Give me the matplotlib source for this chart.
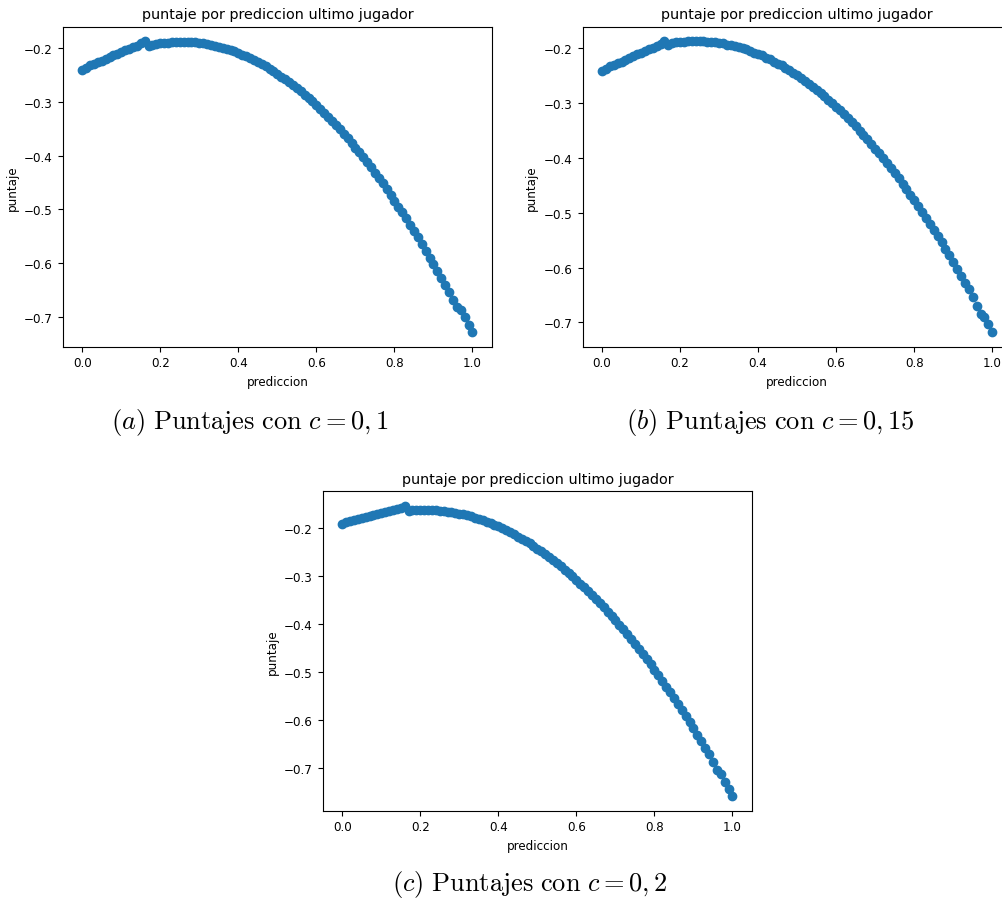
import matplotlib
matplotlib.use("Agg")
import matplotlib.pyplot as plt

# prediccion del ultimo jugador (eje x, paso 0.01)
prediccion = [
    0.00, 0.01, 0.02, 0.03, 0.04, 0.05, 0.06, 0.07, 0.08, 0.09,
    0.10, 0.11, 0.12, 0.13, 0.14, 0.15, 0.16, 0.17, 0.18, 0.19,
    0.20, 0.21, 0.22, 0.23, 0.24, 0.25, 0.26, 0.27, 0.28, 0.29,
    0.30, 0.31, 0.32, 0.33, 0.34, 0.35, 0.36, 0.37, 0.38, 0.39,
    0.40, 0.41, 0.42, 0.43, 0.44, 0.45, 0.46, 0.47, 0.48, 0.49,
    0.50, 0.51, 0.52, 0.53, 0.54, 0.55, 0.56, 0.57, 0.58, 0.59,
    0.60, 0.61, 0.62, 0.63, 0.64, 0.65, 0.66, 0.67, 0.68, 0.69,
    0.70, 0.71, 0.72, 0.73, 0.74, 0.75, 0.76, 0.77, 0.78, 0.79,
    0.80, 0.81, 0.82, 0.83, 0.84, 0.85, 0.86, 0.87, 0.88, 0.89,
    0.90, 0.91, 0.92, 0.93, 0.94, 0.95, 0.96, 0.97, 0.98, 0.99,
    1.00,
]

# puntajes con c = 0,1
puntaje_c01 = [
    -0.240, -0.236, -0.232, -0.229, -0.226, -0.223, -0.220, -0.217, -0.213, -0.210,
    -0.207, -0.204, -0.201, -0.198, -0.195, -0.191, -0.187, -0.195, -0.194, -0.193,
    -0.191, -0.190, -0.190, -0.189, -0.189, -0.188, -0.188, -0.188, -0.189, -0.189,
    -0.190, -0.191, -0.192, -0.194, -0.195, -0.197, -0.199, -0.201, -0.204, -0.206,
    -0.209, -0.212, -0.215, -0.218, -0.222, -0.226, -0.230, -0.234, -0.238, -0.243,
    -0.248, -0.253, -0.258, -0.263, -0.269, -0.274, -0.280, -0.287, -0.293, -0.299,
    -0.306, -0.313, -0.320, -0.328, -0.335, -0.343, -0.351, -0.359, -0.368, -0.376,
    -0.385, -0.394, -0.403, -0.412, -0.422, -0.432, -0.442, -0.452, -0.462, -0.473,
    -0.484, -0.495, -0.506, -0.517, -0.529, -0.541, -0.552, -0.565, -0.577, -0.590,
    -0.602, -0.615, -0.628, -0.642, -0.655, -0.669, -0.682, -0.687, -0.701, -0.715,
    -0.729,
]

# puntajes con c = 0,15
puntaje_c015 = [
    -0.241, -0.237, -0.233, -0.230, -0.227, -0.224, -0.221, -0.217, -0.214, -0.211,
    -0.208, -0.205, -0.202, -0.199, -0.196, -0.192, -0.187, -0.193, -0.190, -0.189,
    -0.188, -0.188, -0.187, -0.187, -0.187, -0.187, -0.187, -0.188, -0.188, -0.189,
    -0.190, -0.191, -0.193, -0.194, -0.196, -0.198, -0.200, -0.202, -0.205, -0.208,
    -0.210, -0.213, -0.217, -0.220, -0.224, -0.228, -0.231, -0.236, -0.240, -0.245,
    -0.249, -0.254, -0.259, -0.265, -0.270, -0.276, -0.281, -0.287, -0.294, -0.300,
    -0.307, -0.313, -0.320, -0.327, -0.335, -0.342, -0.350, -0.358, -0.366, -0.374,
    -0.383, -0.391, -0.400, -0.409, -0.418, -0.428, -0.437, -0.447, -0.457, -0.467,
    -0.477, -0.488, -0.498, -0.509, -0.520, -0.531, -0.543, -0.554, -0.566, -0.578,
    -0.590, -0.602, -0.615, -0.628, -0.640, -0.654, -0.670, -0.684, -0.690, -0.704,
    -0.718,
]

# puntajes con c = 0,2
puntaje_c02 = [
    -0.191, -0.188, -0.186, -0.184, -0.181, -0.179, -0.177, -0.175, -0.173, -0.171,
    -0.169, -0.167, -0.165, -0.163, -0.161, -0.158, -0.154, -0.165, -0.163, -0.162,
    -0.162, -0.162, -0.162, -0.162, -0.163, -0.164, -0.165, -0.166, -0.167, -0.168,
    -0.170, -0.172, -0.174, -0.176, -0.179, -0.181, -0.184, -0.187, -0.190, -0.193,
    -0.197, -0.201, -0.205, -0.209, -0.213, -0.218, -0.222, -0.227, -0.232, -0.238,
    -0.243, -0.249, -0.255, -0.261, -0.267, -0.273, -0.280, -0.287, -0.294, -0.301,
    -0.308, -0.316, -0.323, -0.331, -0.339, -0.348, -0.356, -0.365, -0.374, -0.383,
    -0.392, -0.402, -0.411, -0.421, -0.431, -0.441, -0.452, -0.462, -0.473, -0.484,
    -0.495, -0.506, -0.518, -0.530, -0.542, -0.554, -0.566, -0.578, -0.591, -0.604,
    -0.617, -0.630, -0.644, -0.657, -0.671, -0.686, -0.703, -0.712, -0.729, -0.744,
    -0.758,
]

captions = [
    r"$(a)\ \mathrm{Puntajes\ con}\ c = 0,1$",
    r"$(b)\ \mathrm{Puntajes\ con}\ c = 0,15$",
    r"$(c)\ \mathrm{Puntajes\ con}\ c = 0,2$",
]

plt.rcParams["font.size"] = 8.6
plt.rcParams["mathtext.fontset"] = "cm"


def plot_puntaje(ax, puntaje):
    ax.scatter(prediccion, puntaje, s=36)
    ax.set_title("puntaje por prediccion ultimo jugador")
    ax.set_xlabel("prediccion")
    ax.set_ylabel("puntaje")
    ax.set_xticks([0.0, 0.2, 0.4, 0.6, 0.8, 1.0])


W, H = 1003, 904
fig = plt.figure(figsize=(W / 100, H / 100), dpi=100)

ax_a = fig.add_axes([62.7 / W, 1 - 347.7 / H, 429.3 / W, 320 / H])
ax_b = fig.add_axes([582.5 / W, 1 - 347.7 / H, 429.3 / W, 320 / H])
ax_c = fig.add_axes([322.7 / W, 1 - 811.7 / H, 429.3 / W, 319.4 / H])

plot_puntaje(ax_a, puntaje_c01)
plot_puntaje(ax_b, puntaje_c015)
plot_puntaje(ax_c, puntaje_c02)

fig.text(250 / W, 1 - 423 / H, captions[0], ha="center", va="center", fontsize=19)
fig.text(770 / W, 1 - 423 / H, captions[1], ha="center", va="center", fontsize=19)
fig.text(530 / W, 1 - 885 / H, captions[2], ha="center", va="center", fontsize=19)

fig.savefig("out.png", dpi=100)
